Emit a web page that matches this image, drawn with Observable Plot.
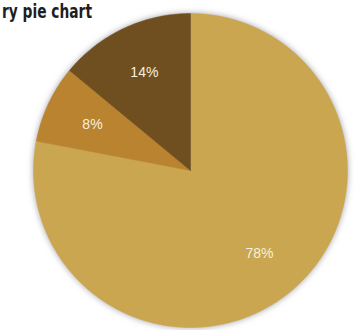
<!DOCTYPE html>
<html>
<head>
<meta charset="utf-8">
<script src="https://cdn.jsdelivr.net/npm/d3@7"></script>
<script src="https://cdn.jsdelivr.net/npm/@observablehq/plot@0.6"></script>
<style>
  html, body { margin: 0; padding: 0; background: #ffffff; }
  #wrap { position: relative; width: 355px; height: 330px; overflow: hidden; }
  #title { position: absolute; left: 0; top: 0; }
  #chart svg g[aria-label="line"] { filter: drop-shadow(0px 0px 3px rgba(90,90,110,0.55)); }
</style>
</head>
<body>
<div id="wrap">
  <div id="chart"></div>
  <svg id="title" width="200" height="28"><text x="2" y="18" font-family="DejaVu Sans Condensed" font-weight="bold" font-size="20" fill="#1e1e1e" textLength="90" lengthAdjust="spacingAndGlyphs">ry pie chart</text></svg>
</div>
<script>
const labels = ["78%", "8%", "14%"];
const values = [78, 8, 14];
const colors = ["#c9a64f", "#ba8330", "#6f4f1f"];

const arcs = d3.pie().sort(null).value(d => d)(values);
const points = [];
arcs.forEach((a, i) => {
  points.push({label: labels[i], x: 0, y: 0});
  const n = Math.max(2, Math.ceil((a.endAngle - a.startAngle) / 0.01));
  for (let k = 0; k <= n; k++) {
    const t = a.startAngle + (a.endAngle - a.startAngle) * k / n;
    points.push({label: labels[i], x: Math.sin(t), y: Math.cos(t)});
  }
  points.push({label: labels[i], x: 0, y: 0});
});
const labelPos = arcs.map((a, i) => {
  const m = (a.startAngle + a.endAngle) / 2;
  return {label: labels[i], x: 0.69 * Math.sin(m), y: 0.69 * Math.cos(m)};
});

const chart = Plot.plot({
  width: 355,
  height: 330,
  marginLeft: 33,
  marginRight: 8,
  marginTop: 13,
  marginBottom: 3,
  x: {domain: [-1, 1], axis: null},
  y: {domain: [-1, 1], axis: null},
  color: {domain: labels, range: colors},
  marks: [
    Plot.line(points, {x: "x", y: "y", z: "label", fill: "label", stroke: "label", strokeWidth: 0.5}),
    Plot.text(labelPos, {x: "x", y: "y", text: "label", fill: "#f7f0de", fontSize: 14, fontFamily: "Liberation Sans, Arial, sans-serif"})
  ]
});
document.getElementById("chart").appendChild(chart);
</script>
</body>
</html>
